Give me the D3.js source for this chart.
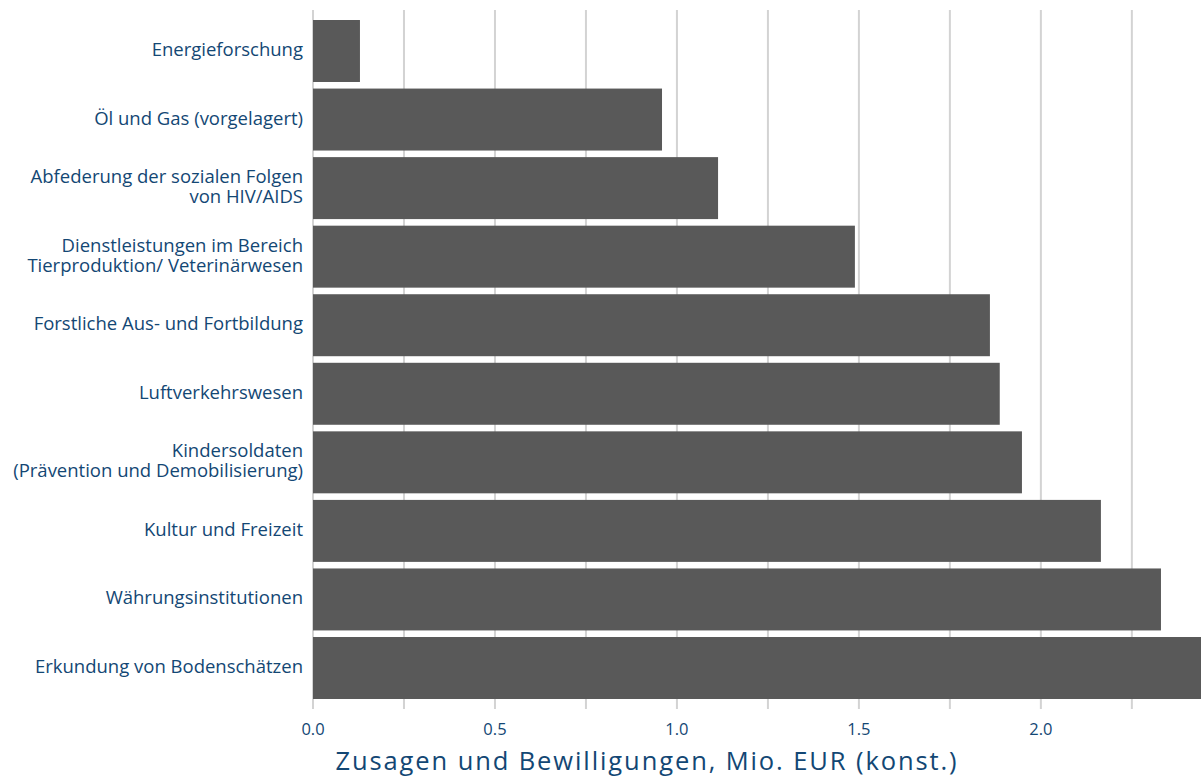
<!DOCTYPE html>
<html><head><meta charset="utf-8">
<script src="https://cdn.jsdelivr.net/npm/d3@7"></script>
<style>body{margin:0;background:#fff}</style>
</head><body>
<svg id="chart" width="1201" height="780"></svg>
<script>
const categories = [
  ["Energieforschung"],
  ["Öl und Gas (vorgelagert)"],
  ["Abfederung der sozialen Folgen", "von HIV/AIDS"],
  ["Dienstleistungen im Bereich", "Tierproduktion/ Veterinärwesen"],
  ["Forstliche Aus- und Fortbildung"],
  ["Luftverkehrswesen"],
  ["Kindersoldaten", "(Prävention und Demobilisierung)"],
  ["Kultur und Freizeit"],
  ["Währungsinstitutionen"],
  ["Erkundung von Bodenschätzen"]
];
const values = [0.129, 0.959, 1.113, 1.489, 1.860, 1.887, 1.948, 2.165, 2.330, 2.44];
const tickValues = [0, 0.25, 0.5, 0.75, 1.0, 1.25, 1.5, 1.75, 2.0, 2.25];
const tickLabels = ["0.0", "", "0.5", "", "1.0", "", "1.5", "", "2.0", ""];
const axisTitle = "Zusagen und Bewilligungen, Mio. EUR (konst.)";

const svg = d3.select("#chart");
const font = "Open Sans, sans-serif";
const textColor = "#134774";
const mLeft = 313, mRight = 1201, mTop = 10, mBottom = 709;

const x = d3.scaleLinear().domain([0, 2.44]).range([mLeft, mRight]);
const y = d3.scaleBand().domain(d3.range(categories.length)).range([mTop, mBottom])
  .paddingInner(0.096).paddingOuter(0.146);

// grid lines
svg.append("g").selectAll("line").data(tickValues).join("line")
  .attr("x1", d => x(d)).attr("x2", d => x(d))
  .attr("y1", mTop).attr("y2", mBottom)
  .attr("stroke", "#d3d3d3").attr("stroke-width", 2);

// bars
svg.append("g").selectAll("rect").data(values).join("rect")
  .attr("x", x(0)).attr("y", (d, i) => y(i))
  .attr("width", d => x(d) - x(0)).attr("height", y.bandwidth())
  .attr("fill", "#595959");

// category labels
const lab = svg.append("g").selectAll("text").data(categories).join("text")
  .attr("text-anchor", "end").attr("font-family", font).attr("font-size", 18.5)
  .attr("fill", textColor)
  .attr("x", 303)
  .attr("y", (d, i) => y(i) + y.bandwidth() / 2 + 5);
lab.each(function(lines) {
  const t = d3.select(this);
  const n = lines.length;
  lines.forEach((l, k) => {
    t.append("tspan").attr("x", 303)
      .attr("dy", k === 0 ? (-(n - 1) / 2 * 20) : 20)
      .text(l);
  });
});

// tick labels
svg.append("g").selectAll("text").data(tickValues).join("text")
  .attr("x", d => x(d)).attr("y", 735)
  .attr("text-anchor", "middle").attr("font-family", font).attr("font-size", 16.5)
  .attr("fill", textColor)
  .text((d, i) => tickLabels[i]);

// axis title
svg.append("text").attr("x", 647).attr("y", 770)
  .attr("text-anchor", "middle").attr("font-family", font).attr("font-size", 25.5)
  .attr("letter-spacing", 1.9)
  .attr("fill", textColor).text(axisTitle);
</script>
</body></html>
